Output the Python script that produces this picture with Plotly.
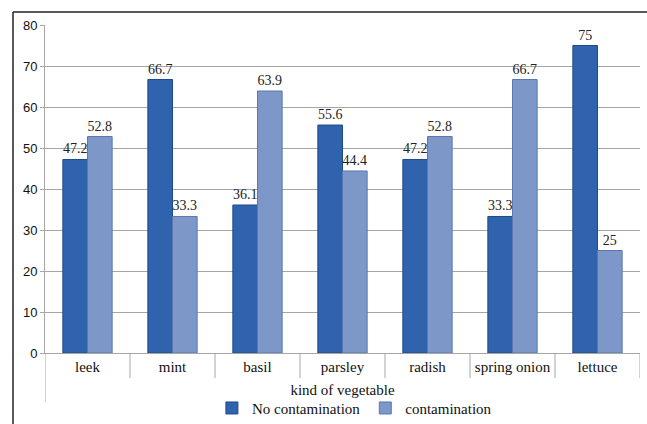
import plotly.graph_objects as go

categories = ["leek", "mint", "basil", "parsley", "radish", "spring onion", "lettuce"]
no_contamination = [47.2, 66.7, 36.1, 55.6, 47.2, 33.3, 75]
contamination = [52.8, 33.3, 63.9, 44.4, 52.8, 66.7, 25]
series_names = ["No contamination", "contamination"]
y_ticks = [0, 10, 20, 30, 40, 50, 60, 70, 80]

W, H = 647, 424
L, R, T, B = 45, 7, 25, 71
pw, ph = W - L - R, H - T - B

serif = "Liberation Serif, Times New Roman, serif"
sans = "Liberation Sans, Arial, sans-serif"

fig = go.Figure()
fig.add_trace(go.Bar(
    x=categories, y=no_contamination, name=series_names[0],
    marker=dict(color="#2F63AE", line=dict(color="#1E4A8A", width=1)),
    text=[f"{v:g}" for v in no_contamination], textposition="outside",
    textfont=dict(family=serif, size=14, color="#222"), cliponaxis=False,
))
fig.add_trace(go.Bar(
    x=categories, y=contamination, name=series_names[1],
    marker=dict(color="#7C97C8", line=dict(color="#5A78AE", width=1)),
    text=[f"{v:g}" for v in contamination], textposition="outside",
    textfont=dict(family=serif, size=14, color="#222"), cliponaxis=False,
))

shapes = []
n = len(categories)
for i in range(n + 1):
    xb = i - 0.5
    y_end = -49 / ph if i == 0 else -25 / ph
    shapes.append(dict(type="line", xref="x", yref="paper", x0=xb, x1=xb,
                       y0=0, y1=y_end, line=dict(color="#A6A6A6", width=1)))
# outer chart border (top and left visible)
bx = (13 - L) / pw
by = (H - B - 12) / ph
shapes.append(dict(type="line", xref="paper", yref="paper", x0=bx, x1=bx,
                   y0=-0.5, y1=by, line=dict(color="#222", width=1.5)))
shapes.append(dict(type="line", xref="paper", yref="paper", x0=bx, x1=1.2,
                   y0=by, y1=by, line=dict(color="#222", width=1.5)))

fig.update_layout(
    width=W, height=H,
    margin=dict(l=L, r=R, t=T, b=B, autoexpand=False),
    paper_bgcolor="white", plot_bgcolor="white",
    barmode="group", bargap=0.42, bargroupgap=0,
    showlegend=True,
    legend=dict(orientation="h", x=0.52, xanchor="center", y=-0.118, yanchor="top",
                font=dict(family=serif, size=15, color="#111"),
                itemwidth=30, tracegroupgap=0,
                bgcolor="rgba(0,0,0,0)"),
    xaxis=dict(
        tickfont=dict(family=serif, size=15, color="#111"),
        showline=True, linecolor="#A6A6A6", ticks="", showgrid=False,
        range=[-0.5, n - 0.5], automargin=False,
        title=dict(text="kind of vegetable", font=dict(family=serif, size=15, color="#111"),
                   standoff=10),
    ),
    yaxis=dict(
        range=[0, 80], tickvals=y_ticks, automargin=False,
        tickfont=dict(family=sans, size=13, color="#111"),
        showgrid=True, gridcolor="#A6A6A6", gridwidth=1,
        showline=True, linecolor="#A6A6A6", ticks="outside", ticklen=4,
        tickcolor="#A6A6A6", zeroline=False,
    ),
    shapes=shapes,
)

fig.write_html("out.html")
